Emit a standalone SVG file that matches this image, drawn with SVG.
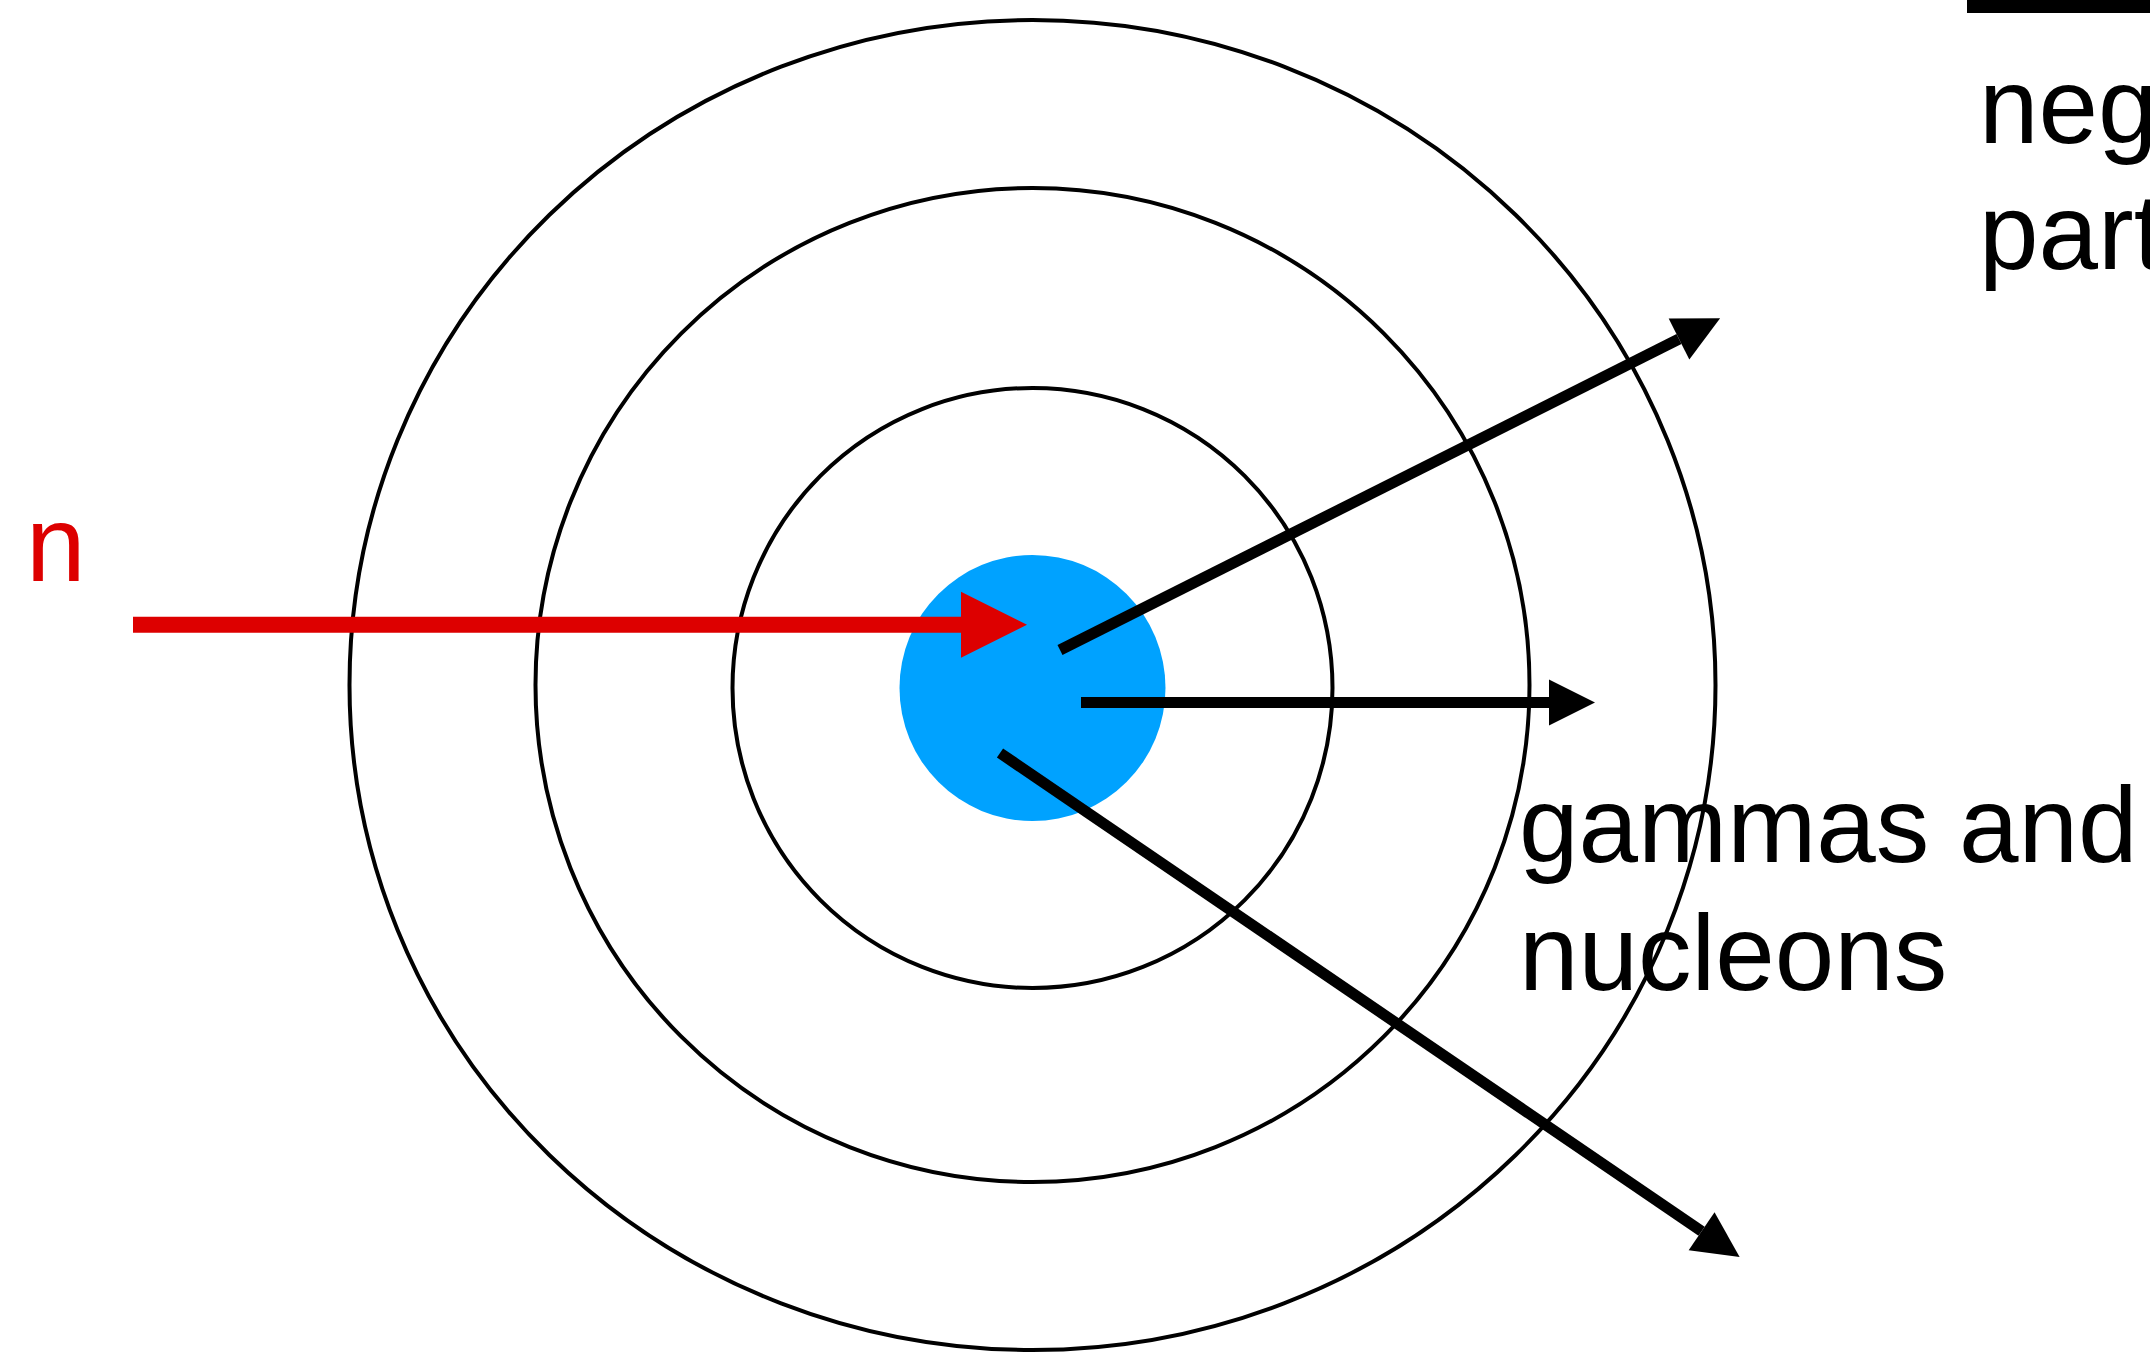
<svg xmlns="http://www.w3.org/2000/svg" width="2150" height="1355" viewBox="0 0 2150 1355">
  <style>
    .ring { fill: none; stroke: #000; stroke-width: 4; }
    .lbl { font-family: "Liberation Sans", Arial, Helvetica, sans-serif; font-size: 107px; fill: #000; }
    .ray { stroke: #000; stroke-width: 11; fill: none; }
  </style>
  <defs>
    <marker id="headK" markerUnits="userSpaceOnUse" markerWidth="46" markerHeight="46" refX="0" refY="22" orient="auto" viewBox="0 0 44 44" overflow="visible">
      <path d="M0,0 L44,22 L0,44 Z" fill="#000"/>
    </marker>
    <marker id="headR" markerUnits="userSpaceOnUse" markerWidth="66" markerHeight="66" refX="0" refY="32" orient="auto" viewBox="0 0 64 64" overflow="visible">
      <path d="M0,0 L64,32 L0,64 Z" fill="#DD0000"/>
    </marker>
  </defs>
  <rect width="2150" height="1355" fill="#fff"/>

  <g id="outer-ring"><ellipse class="ring" cx="1032.5" cy="685" rx="683" ry="665"/></g>
  <g id="middle-ring"><circle class="ring" cx="1032.5" cy="685" r="497"/></g>
  <g id="inner-ring"><circle class="ring" cx="1032.5" cy="688" r="300"/></g>
  <g id="nucleus"><circle cx="1032.5" cy="688" r="133" fill="#00A2FF"/></g>

  <g id="connectors">
    <line x1="133" y1="624.7" x2="961" y2="624.7" stroke="#DD0000" stroke-width="16" marker-end="url(#headR)"/>
    <line class="ray" x1="1060" y1="650" x2="1679" y2="339" marker-end="url(#headK)"/>
    <line class="ray" x1="1081" y1="702.5" x2="1549" y2="702.5" marker-end="url(#headK)"/>
    <line class="ray" x1="1000" y1="753" x2="1701.6" y2="1231.2" marker-end="url(#headK)"/>
  </g>

  <g id="label-n"><text x="26" y="581" class="lbl" style="fill:#DD0000">n</text></g>
  <g id="label-gammas"><text class="lbl" x="1519" y="862">gammas and</text><text class="lbl" x="1519" y="990">nucleons</text></g>
  <g id="label-neg">
    <rect x="1967" y="-3" width="190" height="16" fill="#000"/>
    <text class="lbl" x="1979" y="143">neg</text><text class="lbl" x="1979" y="269">part</text>
  </g>
</svg>
